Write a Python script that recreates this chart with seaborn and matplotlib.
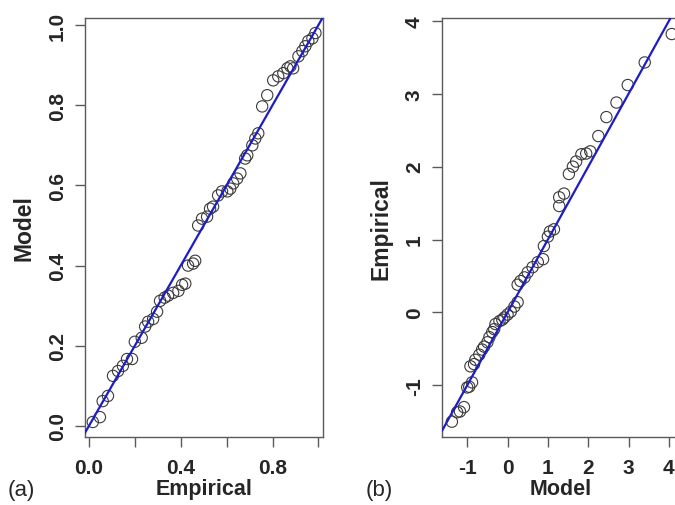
import matplotlib
matplotlib.use("Agg")
import matplotlib.pyplot as plt
import seaborn as sns
import pandas as pd

# Panel (a): P-P plot, empirical vs model probabilities
pp_empirical = [0.017, 0.048, 0.06, 0.083, 0.105, 0.127, 0.148, 0.166, 0.188, 0.20,
                0.23, 0.245, 0.258, 0.28, 0.297, 0.31, 0.33, 0.345, 0.367, 0.39,
                0.406, 0.42, 0.432, 0.454, 0.463, 0.476, 0.493, 0.515, 0.528, 0.541,
                0.563, 0.58, 0.603, 0.616, 0.629, 0.646, 0.66, 0.681, 0.69, 0.712,
                0.725, 0.738, 0.755, 0.777, 0.803, 0.825, 0.847, 0.865, 0.878, 0.89,
                0.913, 0.93, 0.943, 0.956, 0.974, 0.987]
pp_model = [0.01, 0.022, 0.062, 0.075, 0.125, 0.137, 0.15, 0.167, 0.167, 0.21,
            0.22, 0.248, 0.26, 0.267, 0.285, 0.312, 0.32, 0.325, 0.332, 0.337,
            0.352, 0.355, 0.40, 0.405, 0.412, 0.50, 0.517, 0.522, 0.542, 0.547,
            0.575, 0.585, 0.585, 0.592, 0.605, 0.617, 0.63, 0.667, 0.675, 0.70,
            0.717, 0.73, 0.797, 0.825, 0.862, 0.872, 0.88, 0.892, 0.897, 0.892,
            0.922, 0.935, 0.947, 0.96, 0.967, 0.98]

# Panel (b): Q-Q plot, model vs empirical quantiles
qq_model = [-1.38, -1.25, -1.18, -1.08, -1.0, -0.95, -0.88, -0.92, -0.83, -0.8,
            -0.7, -0.63, -0.58, -0.5, -0.45, -0.38, -0.33, -0.3, -0.2, -0.13,
            -0.08, 0.0, 0.08, 0.17, 0.25, 0.25, 0.32, 0.42, 0.5, 0.62,
            0.75, 0.88, 0.9, 1.0, 1.05, 1.15, 1.28, 1.28, 1.4, 1.52,
            1.62, 1.7, 1.83, 1.95, 2.05, 2.25, 2.45, 2.7, 2.98, 3.4, 4.07]
qq_empirical = [-1.5, -1.37, -1.36, -1.3, -1.03, -1.02, -0.96, -0.74, -0.71, -0.65,
                -0.58, -0.51, -0.47, -0.41, -0.34, -0.27, -0.23, -0.16, -0.12, -0.1,
                -0.07, -0.03, 0.01, 0.08, 0.14, 0.38, 0.43, 0.48, 0.55, 0.62,
                0.69, 0.73, 0.91, 1.04, 1.11, 1.14, 1.46, 1.58, 1.63, 1.9,
                2.0, 2.07, 2.17, 2.18, 2.21, 2.42, 2.68, 2.88, 3.12, 3.43, 3.82]

pp_xticks = [0.0, 0.2, 0.4, 0.6, 0.8, 1.0]
pp_xticklabels = ["0.0", "", "0.4", "", "0.8", ""]
pp_yticks = [0.0, 0.2, 0.4, 0.6, 0.8, 1.0]
pp_yticklabels = ["0.0", "0.2", "0.4", "0.6", "0.8", "1.0"]
qq_ticks = [-1, 0, 1, 2, 3, 4]
qq_ticklabels = ["-1", "0", "1", "2", "3", "4"]

sns.set_theme(style="white")
plt.rcParams["font.family"] = ["Liberation Sans", "DejaVu Sans"]

W, H = 675, 506
fig = plt.figure(figsize=(W / 100, H / 100), dpi=100)

def px_axes(left, right, top, bottom):
    return fig.add_axes([left / W, (H - bottom) / H, (right - left) / W, (bottom - top) / H])

ax_a = px_axes(85, 323, 19, 438)
ax_b = px_axes(442, 679, 19, 438)

frame_col = "#5a5a5a"
point_col = "#3a3a3a"
line_col = "#1c1cc8"

df_a = pd.DataFrame({"Empirical": pp_empirical, "Model": pp_model})
df_b = pd.DataFrame({"Model": qq_model, "Empirical": qq_empirical})

sns.scatterplot(data=df_a, x="Empirical", y="Model", ax=ax_a, marker="o", s=66,
                facecolors="none", edgecolor=point_col, linewidth=0.8, zorder=3)
sns.scatterplot(data=df_b, x="Model", y="Empirical", ax=ax_b, marker="o", s=66,
                facecolors="none", edgecolor=point_col, linewidth=0.8, zorder=3)

for ax in (ax_a, ax_b):
    ax.axline((0, 0), slope=1, color=line_col, lw=1.6, zorder=4)
    for sp in ax.spines.values():
        sp.set_color(frame_col)
        sp.set_linewidth(1.0)
        sp.set_visible(True)
    ax.tick_params(direction="out", length=7, width=1.0, color=frame_col,
                   labelsize=15, bottom=True, left=True)
    ax.tick_params(axis="x", pad=8)
    ax.tick_params(axis="y", pad=6)
    ax.grid(False)

ax_a.set_xlim(-0.017, 1.02)
ax_a.set_ylim(-0.0275, 1.0175)
ax_a.set_xticks(pp_xticks)
ax_a.set_xticklabels(pp_xticklabels, fontweight="bold")
ax_a.set_yticks(pp_yticks)
ax_a.set_yticklabels(pp_yticklabels, fontweight="bold", rotation=90, va="center")
ax_a.set_xlabel("Empirical", fontsize=15.5, fontweight="bold", labelpad=1)
ax_a.set_ylabel("Model", fontsize=16.5, fontweight="bold", labelpad=9)

ax_b.set_xlim(-1.625, 4.25)
ax_b.set_ylim(-1.71, 4.04)
ax_b.set_xticks(qq_ticks)
ax_b.set_xticklabels(qq_ticklabels, fontweight="bold")
ax_b.set_yticks(qq_ticks)
ax_b.set_yticklabels(qq_ticklabels, fontweight="bold", rotation=90, va="center")
ax_b.set_xlabel("Model", fontsize=15.5, fontweight="bold", labelpad=1)
ax_b.set_ylabel("Empirical", fontsize=16.5, fontweight="bold", labelpad=9)

fig.text(8 / W, 1 - 491 / H, "(a)", fontsize=16, va="center", ha="left")
fig.text(366 / W, 1 - 491 / H, "(b)", fontsize=16, va="center", ha="left")

fig.savefig("out.png", dpi=100, facecolor="white")
